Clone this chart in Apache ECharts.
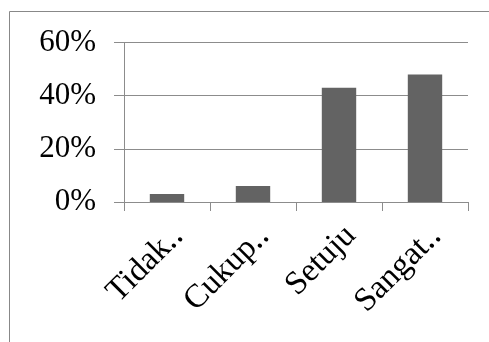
<!DOCTYPE html>
<html>
<head>
<meta charset="utf-8">
<script src="https://cdn.jsdelivr.net/npm/echarts@6/dist/echarts.min.js"></script>
<style>
html,body{margin:0;padding:0;background:#fff;}
#chart{width:489px;height:342px;}
</style>
</head>
<body>
<div id="chart"></div>
<script>
const categories = ['Tidak‥', 'Cukup‥', 'Setuju', 'Sangat‥'];
const values = [3, 6, 43, 48];
const yTicks = [0, 20, 40, 60];

const chart = echarts.init(document.getElementById('chart'), null, {renderer: 'canvas'});
const font = '"Liberation Serif", "Times New Roman", serif';
chart.setOption({
  animation: false,
  backgroundColor: '#ffffff',
  graphic: [{
    type: 'rect', silent: true,
    shape: {x: 9.5, y: 11.5, width: 700, height: 500},
    style: {fill: 'none', stroke: '#888888', lineWidth: 1}
  }],
  grid: {left: 124, right: 21, top: 42.5, bottom: 140, containLabel: false},
  xAxis: {
    type: 'category',
    data: categories,
    boundaryGap: true,
    axisLine: {show: true, lineStyle: {color: '#8c8c8c', width: 1}},
    axisTick: {show: true, length: 9, alignWithLabel: false, lineStyle: {color: '#8c8c8c'}},
    axisLabel: {
      interval: 0, rotate: 45, margin: 17,
      align: 'right', verticalAlign: 'top',
      fontFamily: font, fontSize: 33, color: '#000000'
    }
  },
  yAxis: {
    type: 'value',
    min: yTicks[0], max: yTicks[yTicks.length - 1], interval: 20,
    axisLine: {show: true, lineStyle: {color: '#8c8c8c', width: 1}},
    axisTick: {show: true, length: 10, lineStyle: {color: '#8c8c8c'}},
    splitLine: {show: true, lineStyle: {color: '#8c8c8c', width: 1}},
    axisLabel: {
      margin: 28, fontFamily: font, fontSize: 31, color: '#000000',
      formatter: v => v + '%'
    }
  },
  series: [{
    type: 'bar',
    data: values,
    barCategoryGap: '60%',
    itemStyle: {color: '#636363'}
  }]
});
</script>
</body>
</html>
